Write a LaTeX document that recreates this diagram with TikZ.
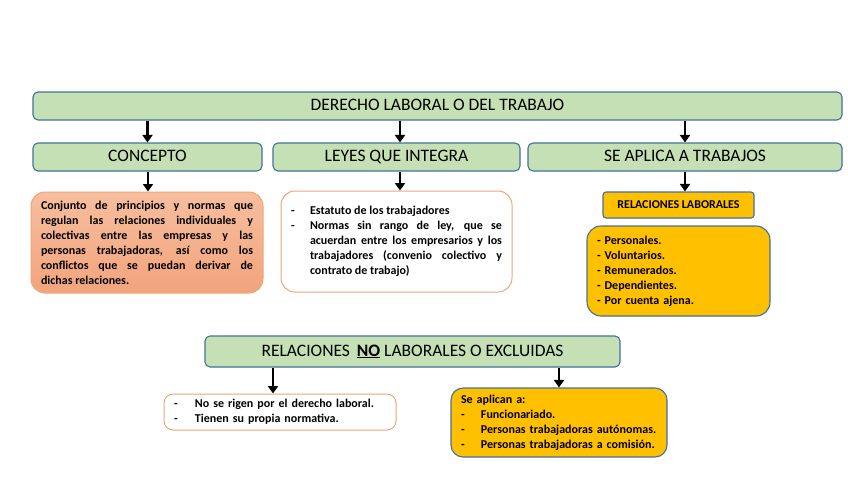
\documentclass[tikz,border=0pt]{standalone}
\usepackage{fontspec}
\setmainfont{Carlito}
\usetikzlibrary{positioning,arrows.meta,calc}
\definecolor{headcol}{HTML}{C5E0B4}
\definecolor{edgecol}{HTML}{41719C}
\definecolor{salmontop}{HTML}{F7BE9E}
\definecolor{salmonbot}{HTML}{F2A47C}
\definecolor{orangeline}{HTML}{EEA57A}
\definecolor{goldcol}{HTML}{FFC000}
\newcommand{\guion}[1]{\hangindent=#1\hangafter=1\noindent\makebox[#1][l]{-}}

\begin{document}
\begin{tikzpicture}[
  x=1pt, y=-1pt,
  head/.style={draw=edgecol, fill=headcol, rounded corners=5pt, line width=1.1pt,
               minimum height=28pt, inner sep=0pt, text height=12pt, text depth=3pt,
               font=\fontsize{17.5}{20}\selectfont},
  textbox/.style={draw=orangeline, rounded corners=14pt, line width=1pt,
                  inner xsep=10pt, inner ysep=6pt,
                  font=\bfseries\fontsize{12}{15}\selectfont},
  goldbox/.style={draw=edgecol, fill=goldcol, line width=1.1pt,
                  font=\bfseries\fontsize{12}{15}\selectfont},
  arr/.style={-{Triangle[length=7.5pt,width=10pt]}, line width=2.4pt},
]
\useasboundingbox (0,0) rectangle (848,477);

% ---------------------------------------------------------------- title
\node[head, minimum width=809pt] (derecho) at (437.5,106)
  {DERECHO LABORAL O DEL TRABAJO};

% ---------------------------------------------------------------- second row
\node[head, minimum width=229pt] (concepto) at (147.5,157) {CONCEPTO};
\node[head, minimum width=247pt] (leyes)    at (396.5,157) {LEYES QUE INTEGRA};
\node[head, minimum width=314pt] (aplica)   at (685,157)   {SE APLICA A TRABAJOS};

% ---------------------------------------------------------------- contents
\node[textbox, top color=salmontop, bottom color=salmonbot,
      text width=212pt, minimum height=101pt, align=justify] (defin) at (147,242.5)
  {Conjunto de principios y normas que\linebreak
   regulan las relaciones individuales y\linebreak
   colectivas entre las empresas y las\linebreak
   personas trabajadoras, así como los\linebreak
   conflictos que se puedan derivar de\linebreak
   dichas relaciones.\par};

\node[textbox, fill=white, text width=211pt, minimum height=101pt,
      align=justify] (normas) at (396.5,241.5)
  {\guion{19pt}Estatuto de los trabajadores\par
   \guion{19pt}Normas sin rango de ley, que se\linebreak
   acuerdan entre los empresarios y los\linebreak
   trabajadores (convenio colectivo y\linebreak
   contrato de trabajo)\par};

\node[goldbox, rounded corners=3pt, minimum width=151pt, minimum height=26pt,
      font=\bfseries\fontsize{12}{14}\selectfont] (rellab) at (678.5,205)
  {RELACIONES LABORALES};

\node[goldbox, rounded corners=14pt, text width=163pt, minimum height=90pt,
      inner xsep=10pt, align=left] (rasgos) at (678.5,271)
  {- Personales.\\
   - Voluntarios.\\
   - Remunerados.\\
   - Dependientes.\\
   - Por cuenta ajena.};

% ---------------------------------------------------------------- excluded
\node[head, minimum width=415pt, minimum height=31pt] (nolab) at (412.5,351.5)
  {RELACIONES \,\textbf{\underline{NO}} LABORALES O EXCLUIDAS};

\node[textbox, fill=white, rounded corners=9pt, text width=212pt,
      minimum height=36pt, inner ysep=3pt, align=left] (propia) at (280,412)
  {\guion{21pt}No se rigen por el derecho laboral.\par
   \guion{21pt}Tienen su propia normativa.\par};

\node[goldbox, rounded corners=12pt, text width=196pt, minimum height=69pt,
      inner xsep=10pt, align=left] (seaplican) at (559,422.5)
  {Se aplican a:\par
   \guion{20pt}Funcionariado.\par
   \guion{20pt}Personas trabajadoras autónomas.\par
   \guion{20pt}Personas trabajadoras a comisión.\par};

% ---------------------------------------------------------------- arrows
\draw[arr] (derecho.south -| concepto.north) -- (concepto.north);
\draw[arr] ([xshift=3.5pt]derecho.south -| leyes.north) -- ([xshift=3.5pt]leyes.north);
\draw[arr] (derecho.south -| aplica.north) -- (aplica.north);

\draw[arr] ([xshift=0.5pt]concepto.south) -- ([xshift=0.5pt]concepto.south |- defin.north);
\draw[arr] ([xshift=3.5pt]leyes.south) -- ([xshift=3.5pt]leyes.south |- normas.north);
\draw[arr] (aplica.south) -- (aplica.south |- rellab.north);

\draw[arr] ([xshift=-7pt]propia.north |- nolab.south) -- ([xshift=-7pt]propia.north);
\draw[arr] (seaplican.north |- nolab.south) -- (seaplican.north);

\end{tikzpicture}
\end{document}
